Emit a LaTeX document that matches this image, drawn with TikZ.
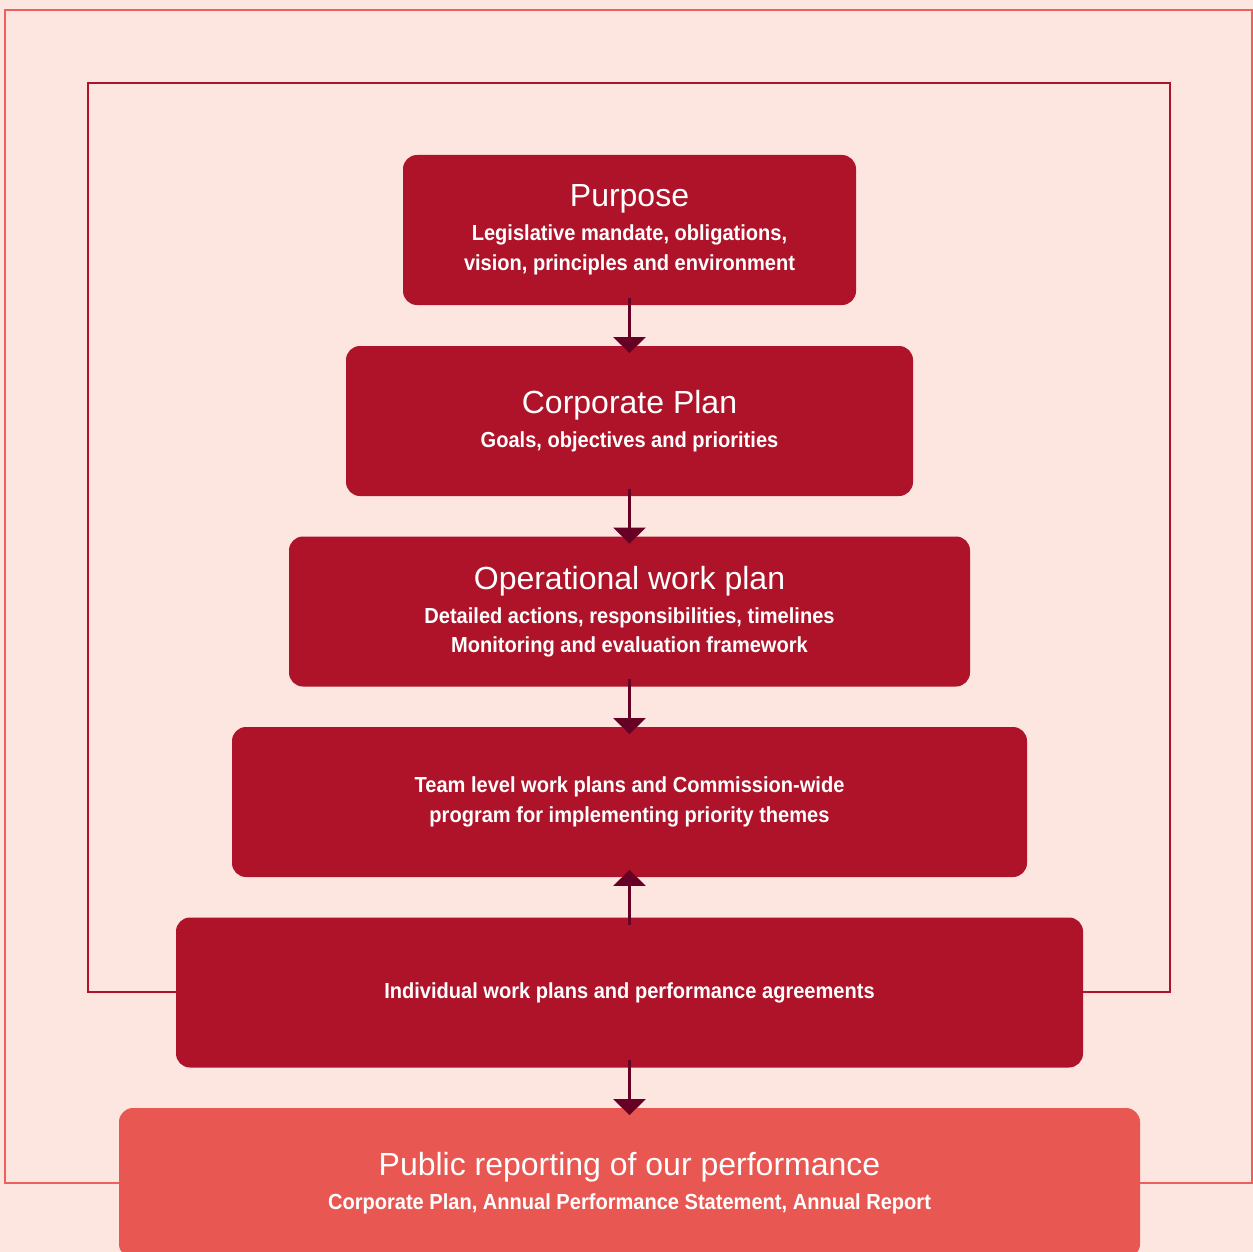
\documentclass[tikz,border=0pt]{standalone}
\usepackage{fontspec}
\setmainfont{Liberation Sans}
\newfontfamily\condfont{Liberation Sans}[FakeStretch=0.92]
\usetikzlibrary{arrows.meta}

\definecolor{bgpink}{RGB}{253,229,224}
\definecolor{boxred}{RGB}{174,19,41}
\definecolor{pubred}{RGB}{232,87,81}
\definecolor{outerline}{RGB}{238,96,94}
\definecolor{arrowred}{RGB}{102,0,36}

\newcommand{\titletext}[1]{{\normalfont\fontsize{16}{17}\selectfont #1}\\[2.25pt]}

\begin{document}
\begin{tikzpicture}[x=0.5pt,y=-0.5pt,
  every node/.style={inner sep=0pt},
  stagebox/.style={fill=boxred, rounded corners=7pt, minimum height=75pt,
    text=white, align=center, font=\condfont\bfseries\fontsize{10.9}{14.75}\selectfont},
  pubbox/.style={stagebox, fill=pubred},
  flowarrow/.style={draw=arrowred, line width=1.5pt,
    -{Triangle[width=16pt,length=8pt]},
    shorten <=-3.75pt, shorten >=-3.75pt}]
\useasboundingbox (0,0) rectangle (1253,1252);
\fill [bgpink] (0,0) rectangle (1253,1252);
% frames
\draw [outerline, line width=1pt] (5,10) rectangle (1252,1183);
\draw [boxred, line width=1pt] (88,83) rectangle (1170,992);
% stages
\node [stagebox, minimum width=226.5pt] (purpose) at (629.5,230)
  {\titletext{Purpose}Legislative mandate, obligations,\\vision, principles and environment};
\node [stagebox, minimum width=283.5pt] (corpplan) at (629.5,421)
  {\titletext{Corporate Plan}Goals, objectives and priorities};
\node [stagebox, minimum width=340.5pt] (opplan) at (629.5,611.5)
  {\titletext{Operational work plan}Detailed actions, responsibilities, timelines\\Monitoring and evaluation framework};
\node [stagebox, minimum width=397.5pt] (teamplan) at (629.5,802)
  {Team level work plans and Commission-wide\\program for implementing priority themes};
\node [stagebox, minimum width=453.5pt] (indplan) at (629.5,992.5)
  {Individual work plans and performance agreements};
\node [pubbox, minimum width=510.5pt] (public) at (629.5,1183)
  {\titletext{Public reporting of our performance}Corporate Plan, Annual Performance Statement, Annual Report};
% arrows
\draw [flowarrow] (purpose) -- (corpplan);
\draw [flowarrow] (corpplan) -- (opplan);
\draw [flowarrow] (opplan) -- (teamplan);
\draw [flowarrow] (indplan) -- (teamplan);
\draw [flowarrow] (indplan) -- (public);
\end{tikzpicture}
\end{document}
